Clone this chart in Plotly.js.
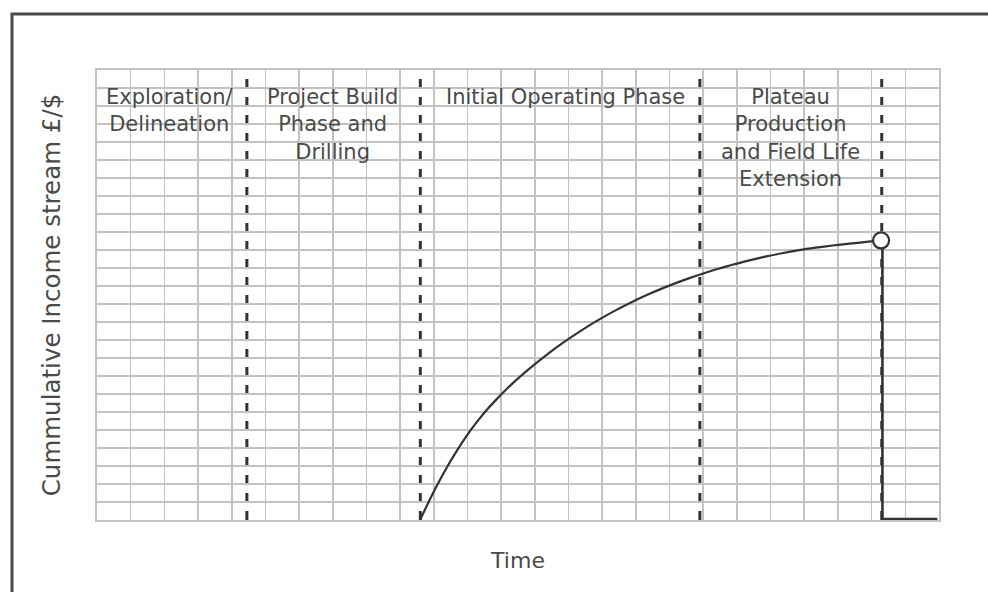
<!DOCTYPE html>
<html>
<head>
<meta charset="utf-8">
<script src="https://cdn.plot.ly/plotly-3.0.1.min.js"></script>
<style>html,body{margin:0;padding:0;background:#fff;}#chart{width:988px;height:592px;}</style>
</head>
<body>
<div id="chart"></div>
<script>
// Phase boundaries along the time axis (grid units)
const phaseBoundaries = [4.45, 9.6, 17.9, 23.3];
// Phase labels and their centre positions
const phaseLabels = [
  "Exploration/<br>Delineation",
  "Project Build<br>Phase and<br>Drilling",
  "Initial Operating Phase",
  "Plateau<br>Production<br>and Field Life<br>Extension"
];
const phaseLabelX = [2.14, 7.0, 13.9, 20.6];
// Cumulative income curve
const curveX = [9.59, 9.84, 10.09, 10.34, 10.59, 10.84, 11.09, 11.34, 11.59, 11.84, 12.34, 12.84, 13.34, 13.84, 14.34, 14.84, 15.34, 15.84, 16.34, 16.84, 17.34, 17.84, 18.34, 18.84, 19.34, 19.84, 20.34, 20.84, 21.34, 21.84, 22.34, 22.84, 23.28];
const curveY = [0, 0.975, 1.9, 2.76, 3.56, 4.3, 4.98, 5.59, 6.15, 6.66, 7.59, 8.41, 9.16, 9.85, 10.48, 11.06, 11.59, 12.07, 12.51, 12.91, 13.27, 13.6, 13.9, 14.17, 14.41, 14.63, 14.82, 14.99, 15.13, 15.25, 15.35, 15.45, 15.53];
// End of field life: drop to zero
const dropX = [23.32, 23.32, 24.95];
const dropY = [15.53, 0.05, 0.05];
// End point marker
const endX = [23.28];
const endY = [15.53];

const ink = '#333333';
const textColor = '#4a4a4a';
const fontFam = 'DejaVu Sans, Arial, sans-serif';

const traces = [
  {x: curveX, y: curveY, type: 'scatter', mode: 'lines', line: {color: ink, width: 2.2, shape: 'spline', smoothing: 0.6}, hoverinfo: 'skip', showlegend: false},
  {x: dropX, y: dropY, type: 'scatter', mode: 'lines', line: {color: ink, width: 2.6}, hoverinfo: 'skip', showlegend: false},
  {x: endX, y: endY, type: 'scatter', mode: 'markers', marker: {symbol: 'circle', size: 16, color: '#ffffff', line: {color: ink, width: 2.2}}, hoverinfo: 'skip', showlegend: false}
];

const shapes = phaseBoundaries.map(b => ({
  type: 'line', xref: 'x', yref: 'paper', x0: b, x1: b, y0: 0, y1: 1,
  line: {color: ink, width: 3, dash: 'dash'}, layer: 'between'
}));
// Outer frame of the figure
shapes.push({
  type: 'rect', xref: 'paper', yref: 'paper',
  x0: (12 - 97) / 842, x1: 1.12, y0: -0.25, y1: (520 - 14) / 450,
  line: {color: '#4a4a4a', width: 3}, fillcolor: 'rgba(0,0,0,0)', layer: 'below'
});

const annotations = phaseLabels.map((t, i) => ({
  text: t, x: phaseLabelX[i], y: 24.3, xref: 'x', yref: 'y',
  xanchor: 'center', yanchor: 'top', align: 'center', showarrow: false,
  font: {family: fontFam, size: 21, color: textColor}
}));

const gridColor = '#c2c2c2';
const layout = {
  width: 988, height: 592,
  margin: {l: 97, r: 49, t: 70, b: 72},
  paper_bgcolor: '#ffffff', plot_bgcolor: '#ffffff',
  showlegend: false,
  xaxis: {
    range: [0, 25], dtick: 1, tick0: 0, showticklabels: false, ticks: '',
    showgrid: true, gridcolor: gridColor, gridwidth: 1.6, zeroline: false,
    showline: true, mirror: true, linecolor: gridColor, linewidth: 1.6,
    title: {text: 'Time', font: {family: fontFam, size: 22, color: textColor}, standoff: 32},
    fixedrange: true
  },
  yaxis: {
    range: [0, 25], dtick: 1, tick0: 0, showticklabels: false, ticks: '',
    showgrid: true, gridcolor: gridColor, gridwidth: 1.6, zeroline: false,
    showline: true, mirror: true, linecolor: gridColor, linewidth: 1.6,
    title: {text: 'Cummulative Income stream £/$', font: {family: fontFam, size: 24.5, color: textColor}, standoff: 28},
    fixedrange: true
  },
  shapes: shapes,
  annotations: annotations
};

Plotly.newPlot('chart', traces, layout, {displayModeBar: false, staticPlot: true});
</script>
</body>
</html>
